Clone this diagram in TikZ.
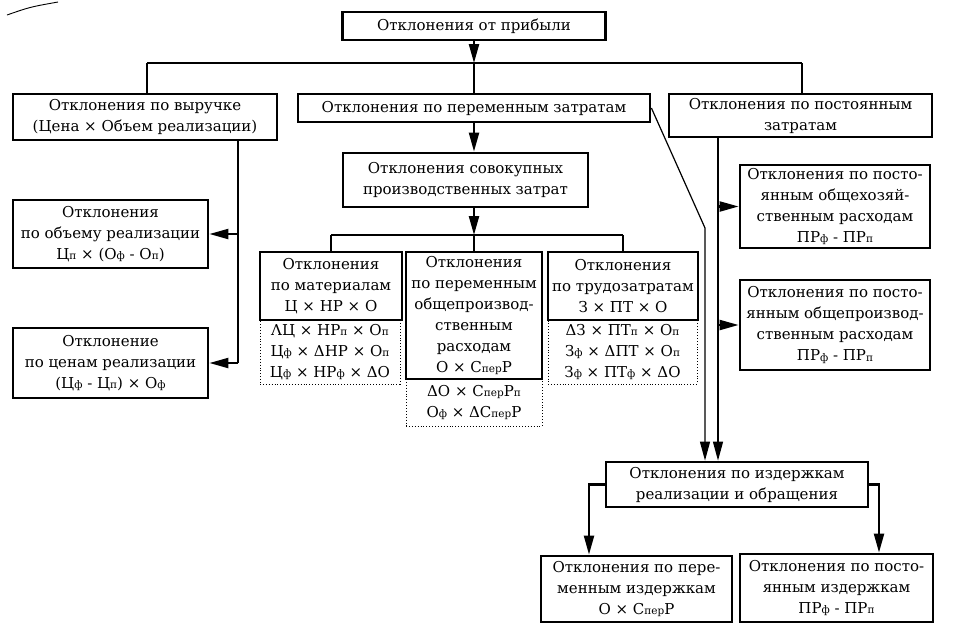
\documentclass[tikz,border=0pt]{standalone}
\usepackage{fontspec}
\setmainfont{DejaVu Serif}
\usetikzlibrary{arrows.meta,calc}
\newcommand\lw[1]{\raisebox{-0.6pt}{\fontsize{10.5}{10.5}\selectfont #1}}
\begin{document}
\begin{tikzpicture}[x=1pt,y=-1pt,
  every node/.style={font=\fontsize{15}{21}\selectfont, align=center, inner sep=0pt},
  box/.style={draw, line width=2.8pt, rectangle},
  dbox/.style={draw, dotted, line width=0.9pt, rectangle},
  conn/.style={line width=2.2pt},
  thinconn/.style={line width=1.2pt},
  arr/.style={-{Triangle[length=19pt,width=10pt]}}
]
\fill[white] (0,0) rectangle (958,638);
\useasboundingbox (0,0) rectangle (958,638);
\draw[line width=0.9pt] (7,15) .. controls (30,7) .. (58,2);

% boxes
\node[box, minimum width=263, minimum height=28] (top) at (474,26) {Отклонения от прибыли};
\node[box, minimum width=264, minimum height=46] (vyr) at (145,117) {Отклонения по выручке\\(Цена × Объем реализации)};
\node[box, minimum width=352, minimum height=28] (perem) at (474,108) {Отклонения по переменным затратам};
\node[box, minimum width=263, minimum height=43] (post) at (800.5,115.5) {Отклонения по постоянным\\затратам};
\node[box, minimum width=245, minimum height=54] (sov) at (465.5,180) {Отклонения совокупных\\производственных затрат};

\node[box, minimum width=142, minimum height=68] (mat) at (331,286) {Отклонения\\по материалам\\Ц × НР × О};
\node[dbox, minimum width=140, minimum height=64] (matd) at (330,352) {ΛЦ × НР\lw{п} × О\lw{п}\\Ц\lw{ф} × ΔНР × О\lw{п}\\Ц\lw{ф} × НР\lw{ф} × ΔО};
\node[box, minimum width=136, minimum height=127] (mid) at (474,315.5) {Отклонения\\по переменным\\общепроизвод-\\ственным\\расходам\\О × С\lw{пер}Р};
\node[dbox, minimum width=136, minimum height=47] (midd) at (474,402.5) {ΔО × С\lw{пер}Р\lw{п}\\О\lw{ф} × ΔС\lw{пер}Р};
\node[box, minimum width=150, minimum height=68] (lab) at (623,286) {Отклонения\\по трудозатратам\\З × ПТ × О};
\node[dbox, minimum width=149, minimum height=64] (labd) at (622.5,352) {ΔЗ × ПТ\lw{п} × О\lw{п}\\З\lw{ф} × ΔПТ × О\lw{п}\\З\lw{ф} × ПТ\lw{ф} × ΔО};

\node[box, minimum width=195, minimum height=68] (obj) at (110.5,234) {Отклонения\\по объему реализации\\Ц\lw{п} × (О\lw{ф} - О\lw{п})};
\node[box, minimum width=195, minimum height=70] (cen) at (110.5,363) {Отклонение\\по ценам реализации\\(Ц\lw{ф} - Ц\lw{п}) × О\lw{ф}};

\node[box, minimum width=190, minimum height=83] (ohz) at (835,206.5) {Отклонения по посто-\\янным общехозяй-\\ственным расходам\\ПР\lw{ф} - ПР\lw{п}};
\node[box, minimum width=190, minimum height=90] (opr) at (835,325) {Отклонения по посто-\\янным общепроизвод-\\ственным расходам\\ПР\lw{ф} - ПР\lw{п}};

\node[box, minimum width=262, minimum height=45] (izd) at (737,484.5) {Отклонения по издержкам\\реализации и обращения};
\node[box, minimum width=191, minimum height=66] (bl) at (636.5,589) {Отклонения по пере-\\менным издержкам\\О × С\lw{пер}Р};
\node[box, minimum width=193, minimum height=68] (br) at (836.5,588) {Отклонения по посто-\\янным издержкам\\ПР\lw{ф} - ПР\lw{п}};

% helper coordinates
\coordinate (j1) at (474,63);
\coordinate (j2) at (474,235);
\coordinate (lvx) at (238,0);
\coordinate (rvx) at (718,0);
\coordinate (bend) at (705,228);
\coordinate (blx) at (589,0);
\coordinate (brx) at (879,0);

% top level
\draw[conn,arr] (top.south) -- (j1);
\draw[conn] (j1 -| 147,0) -- (j1 -| 802,0);
\draw[conn] (j1 -| 147,0) -- (vyr.north -| 147,0);
\draw[conn] (j1) -- (perem.north);
\draw[conn] (j1 -| 802,0) -- (post.north -| 802,0);

% variable costs branch
\draw[conn,arr] (perem.south) -- (perem.south |- sov.north);
\draw[conn,arr] (perem.south |- sov.south) -- (j2);
\draw[conn] (j2 -| mat.north) -- (j2 -| lab.north);
\draw[conn] (j2 -| mat.north) -- (mat.north);
\draw[conn] (j2) -- (mid.north);
\draw[conn] (j2 -| lab.north) -- (lab.north);

% revenue branch
\draw[conn] (vyr.south -| lvx) -- (lvx |- cen.east);
\draw[conn,arr] (lvx |- obj.east) -- (obj.east);
\draw[conn,arr] (lvx |- cen.east) -- (cen.east);

% fixed costs branch
\draw[thinconn,arr] (post.south -| rvx) -- (rvx |- izd.north);
\draw[conn,arr] (rvx |- ohz.west) -- (ohz.west);
\draw[conn,arr] (rvx |- opr.west) -- (opr.west);

% diagonal from variable costs
\draw[thinconn,arr] (perem.east) -- (bend) -- (bend |- izd.north);

% bottom
\draw[conn,arr] (izd.west) -| (blx |- bl.north);
\draw[conn,arr] (izd.east) -| (brx |- br.north);
\end{tikzpicture}
\end{document}
